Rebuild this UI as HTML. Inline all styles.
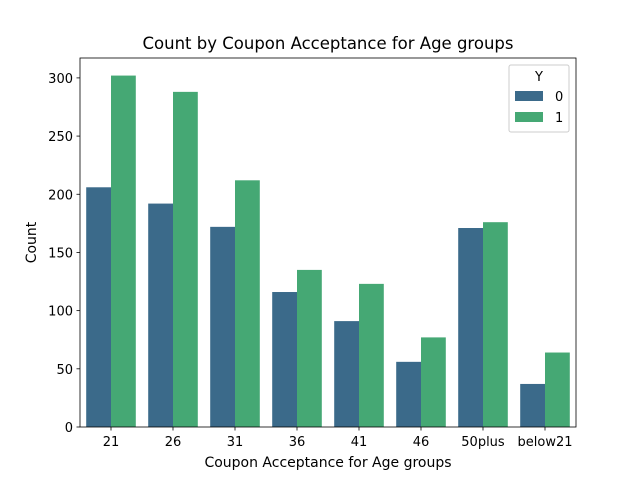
<!DOCTYPE html>
<html><head><meta charset="utf-8"><style>
body{margin:0;background:#fff;font-family:"Liberation Sans","DejaVu Sans",sans-serif;}
</style></head><body>
<svg id="chart" width="640" height="480" xmlns="http://www.w3.org/2000/svg" font-family="DejaVu Sans, Liberation Sans, sans-serif"></svg>
<script>
const categories = ["21","26","31","36","41","46","50plus","below21"];
const series0 = [206,192,172,116,91,56,171,37];
const series1 = [302,288,212,135,123,77,176,64];
const yTicks = [0,50,100,150,200,250,300];
const seriesNames = ["0","1"];
const colors = ["#3b6a8a","#45a874"];

const svg = document.getElementById('chart');
const NS = "http://www.w3.org/2000/svg";
const L=80,R=576,T=58,B=427;
const yMax = Math.max(...series0,...series1)*1.05;
const band=(R-L)/categories.length;
const xs=i=>L+band*i;
const ys=v=>B-(v/yMax)*(B-T);
function mk(tag,attrs,txt){const e=document.createElementNS(NS,tag);for(const k in attrs)e.setAttribute(k,attrs[k]);if(txt!==undefined)e.textContent=txt;svg.appendChild(e);return e;}

[series0,series1].forEach((s,si)=>{
  s.forEach((v,i)=>{
    const w=band*0.8/2;
    const x=xs(i)+band*0.1+si*w;
    const r=mk('rect',{x:x,y:ys(v),width:w,height:B-ys(v),fill:colors[si]});
    
    
  });
});
const frame=mk('rect',{x:L,y:T,width:R-L,height:B-T,fill:'none',stroke:'#000','stroke-width':0.8});


yTicks.forEach(t=>{
  const y=ys(t);
  mk('line',{x1:L-3.5,x2:L,y1:y,y2:y,stroke:'#000','stroke-width':0.8});
  const tx=mk('text',{x:L-7,y:y+5,'text-anchor':'end','font-size':13},t);
  
  
});
categories.forEach((c,i)=>{
  const x=xs(i)+band/2;
  mk('line',{x1:x,x2:x,y1:B,y2:B+3.5,stroke:'#000','stroke-width':0.8});
  const tx=mk('text',{x:x,y:B+19,'text-anchor':'middle','font-size':13},c);
  
  
});
const t1=mk('text',{x:(L+R)/2,y:49,'text-anchor':'middle','font-size':16.5},'Count by Coupon Acceptance for Age groups');


const t2=mk('text',{x:(L+R)/2,y:467,'text-anchor':'middle','font-size':14},'Coupon Acceptance for Age groups');


const t3=mk('text',{x:36,y:(T+B)/2,'text-anchor':'middle','font-size':14,transform:`rotate(-90 36 ${(T+B)/2})`},'Count');


const lg=mk('rect',{x:509,y:65,width:60,height:67,fill:'#fff','fill-opacity':0.8,stroke:'#ccc',rx:2});


const lt=mk('text',{x:539,y:81,'text-anchor':'middle','font-size':13},'Y');


seriesNames.forEach((n,i)=>{
  const y=91+i*21;
  const r=mk('rect',{x:515,y:y,width:28,height:10,fill:colors[i]});
  
  
  const tx=mk('text',{x:555,y:y+10,'font-size':13},n);
  
  
});
</script>
</body></html>
